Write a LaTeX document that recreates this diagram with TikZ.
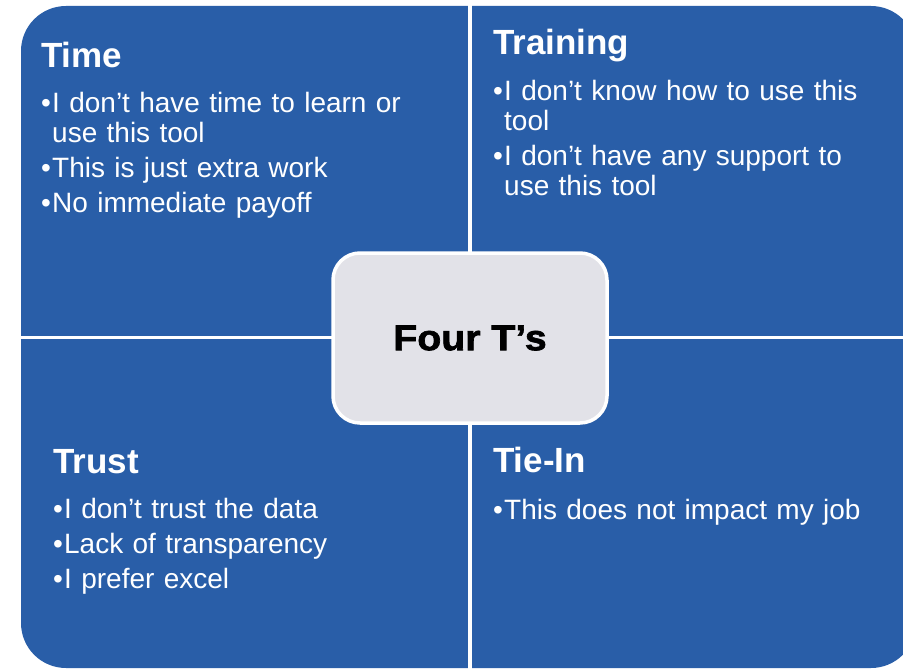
\documentclass[tikz,border=0pt]{standalone}
\usepackage{fontspec}
\setmainfont{Liberation Sans}
\newfontfamily\heavyfont[FakeBold=1.8]{Liberation Sans Bold}
\definecolor{quadblue}{RGB}{41,94,168}
\definecolor{hubgray}{RGB}{226,226,232}
\newcommand{\bul}{\makebox[11pt][l]{\textbullet}}
\newcommand{\cont}{\hspace*{11pt}}

\begin{document}
\begin{tikzpicture}[x=1pt,y=-1pt,
    head/.style={anchor=base west,inner sep=0pt,text=white,font=\fontsize{35}{40}\selectfont\bfseries},
    body/.style={anchor=base west,inner sep=0pt,text=white,text width=380pt,align=left,font=\fontsize{28}{30}\selectfont}]
        \clip (0,0) rectangle (903,669);
        \fill[white] (0,0) rectangle (903,669);
        \fill[quadblue,rounded corners=45pt] (21,6) rectangle (916,668);
        \draw[white,line width=3.5pt] (470,0)--(470,669);
        \draw[white,line width=3.5pt] (0,337.5)--(903,337.5);

        \node[head] (time) at (41,67) {Time};
        \node[body] (timelist) at (41,113) {\bul I don’t have time to learn or\\ \cont use this tool\\[5pt] \bul This is just extra work\\[5pt] \bul No immediate payoff};

        \node[head] (training) at (493,55) {Training};
        \node[body] (traininglist) at (493,100) {\bul I don’t know how to use this\\ \cont tool\\[6pt] \bul I don’t have any support to\\ \cont use this tool};

        \node[head] (trust) at (53,473) {Trust};
        \node[body] (trustlist) at (53,518) {\bul I don’t trust the data\\[5pt] \bul Lack of transparency\\[5pt] \bul I prefer excel};

        \node[head] (tiein) at (493,472) {Tie-In};
        \node[body] (tieinlist) at (493,519) {\bul This does not impact my job};

        \node[draw=white,line width=3.5pt,fill=hubgray,rounded corners=27pt,minimum width=274pt,minimum height=170pt,font=\fontsize{36}{40}\heavyfont] (hub) at (470,338) {\scalebox{1.09}[1]{Four T’s}};
    \end{tikzpicture}
\end{document}
